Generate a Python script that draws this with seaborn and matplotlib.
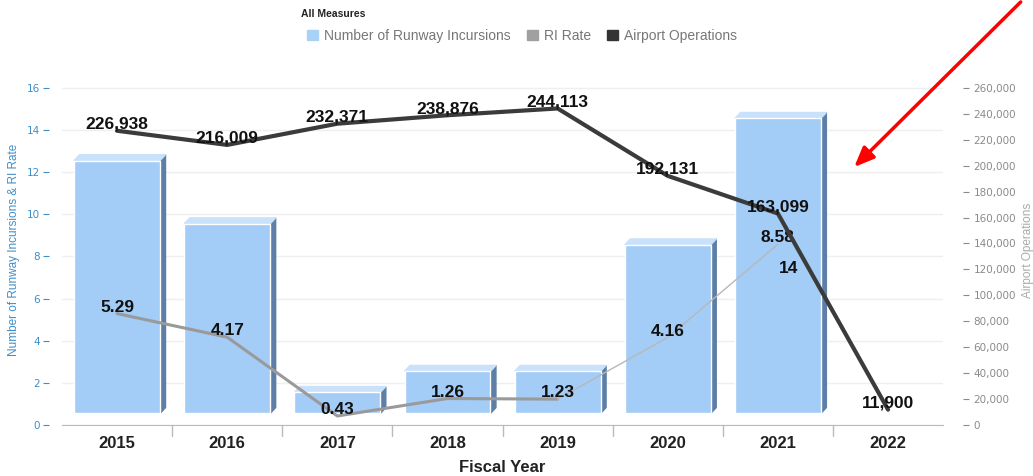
import matplotlib
matplotlib.use("Agg")
import matplotlib.pyplot as plt
import seaborn as sns
import pandas as pd
from matplotlib.patches import Patch, Polygon

years = ["2015", "2016", "2017", "2018", "2019", "2020", "2021", "2022"]
incursions = [12, 9, 1, 2, 2, 8, 14, 0]
ri_rate = [5.29, 4.17, 0.43, 1.26, 1.23, 4.16, 8.58]
operations = [226938, 216009, 232371, 238876, 244113, 192131, 163099, 11900]

sns.set_style("white")
plt.rcParams["font.family"] = ["Liberation Sans", "DejaVu Sans"]

BAR = "#a3ccf6"
SIDE = "#5d7ea6"
TOP = "#c9e1fa"
RI = "#9a9a9a"
OPS = "#3b3b3b"
BLUE = "#3f8ec8"

FLOOR = 0.55   # fake 3D floor
DX, DY = 0.05, 0.28
W = 0.78

df = pd.DataFrame({"year": years, "n": incursions})

fig = plt.figure(figsize=(10.33, 4.76), dpi=100)
ax = fig.add_axes([0.06, 0.107, 0.853, 0.735])

sns.barplot(data=df, x="year", y="n", color=BAR, saturation=1, width=W, ax=ax,
            bottom=FLOOR, zorder=2)
for i, v in enumerate(incursions):
    if not v:
        continue
    r, l = i + W / 2, i - W / 2
    top = v + FLOOR
    ax.add_patch(Polygon([(r, FLOOR), (r, top), (r + DX, top + DY), (r + DX, FLOOR + DY)],
                         closed=True, color=SIDE, zorder=1.9))
    ax.add_patch(Polygon([(l, top), (r, top), (r + DX, top + DY), (l + DX, top + DY)],
                         closed=True, color=TOP, zorder=1.9))

ax.plot(range(5), ri_rate[:5], color=RI, lw=2.2, zorder=3)
ax.plot(range(4, 7), ri_rate[4:], color="#b8b8b8", lw=1, zorder=3)

ax.set_ylim(0, 16.6)
ax.set_xlim(-0.5, 7.5)
ax.set_yticks(range(0, 17, 2))
ax.tick_params(axis="y", colors=BLUE, labelsize=7.5, length=4, direction="out",
               labelfontfamily="DejaVu Sans", pad=3)
ax.tick_params(axis="x", labelsize=12, length=0, pad=8)
for lbl in ax.get_xticklabels():
    lbl.set_fontweight("bold")
    lbl.set_color("#222222")
ax.set_xlabel("Fiscal Year", fontsize=12, fontweight="bold", color="#222222", labelpad=6)
ax.set_ylabel("Number of Runway Incursions & RI Rate", fontsize=8.5, color=BLUE, labelpad=5)
ax.yaxis.grid(True, color="#efefef", lw=1)
ax.set_axisbelow(True)
for s in ["top", "right"]:
    ax.spines[s].set_visible(False)
ax.spines["left"].set_position(("outward", 9))
ax.spines["left"].set_visible(False)
ax.spines["bottom"].set_color("#bbbbbb")
for i in range(1, len(years)):
    ax.axvline(i - 0.5, ymin=-0.03, ymax=0, color="#bbbbbb", lw=1, clip_on=False)

ax2 = ax.twinx()
sns.lineplot(x=list(range(len(years))), y=operations, color=OPS, lw=3, ax=ax2, zorder=4)
ax2.set_ylim(0, 16.6 / 16 * 260000)
ax2.set_yticks(range(0, 260001, 20000))
ax2.set_yticklabels([f"{v:,}" for v in range(0, 260001, 20000)])
ax2.tick_params(axis="y", colors="#8a8a8a", labelsize=7.5, length=4, pad=4,
                labelfontfamily="DejaVu Sans")
ax2.set_ylabel("Airport Operations", fontsize=8.5, color="#aaaaaa", labelpad=4)
for s in ["top", "left", "bottom"]:
    ax2.spines[s].set_visible(False)
ax2.spines["right"].set_position(("outward", 14))
ax2.spines["right"].set_visible(False)

lab = dict(fontsize=12.5, fontweight="bold", color="#111111", ha="center", zorder=6)
for i, v in enumerate(operations):
    ax2.text(i, v - 600, f"{v:,}", va="bottom", **lab)
for i, v in enumerate(ri_rate):
    ax.text(i, v + 0.3, f"{v:.2f}", va="center", **lab)
ax.text(6.1, 7.45, str(incursions[6]), va="center", **lab)

fig.text(0.291, 0.965, "All Measures", fontsize=7.5, fontweight="bold", color="#222222")
handles = [Patch(color="#a9d0f5"), Patch(color="#a0a0a0"), Patch(color="#333333")]
fig.legend(handles, ["Number of Runway Incursions", "RI Rate", "Airport Operations"],
           loc="center left", bbox_to_anchor=(0.285, 0.925), ncol=3, frameon=False,
           fontsize=10, labelcolor="#777777", handlelength=0.8, handleheight=0.8,
           columnspacing=1.2, handletextpad=0.4)

ax.annotate("", xy=(0.825, 0.645), xytext=(0.99, 1.0), xycoords="figure fraction",
            textcoords="figure fraction",
            arrowprops=dict(arrowstyle="-|>,head_width=0.5,head_length=1.2", color="#ff0000", lw=2.5))

fig.savefig("out.png", dpi=100)
